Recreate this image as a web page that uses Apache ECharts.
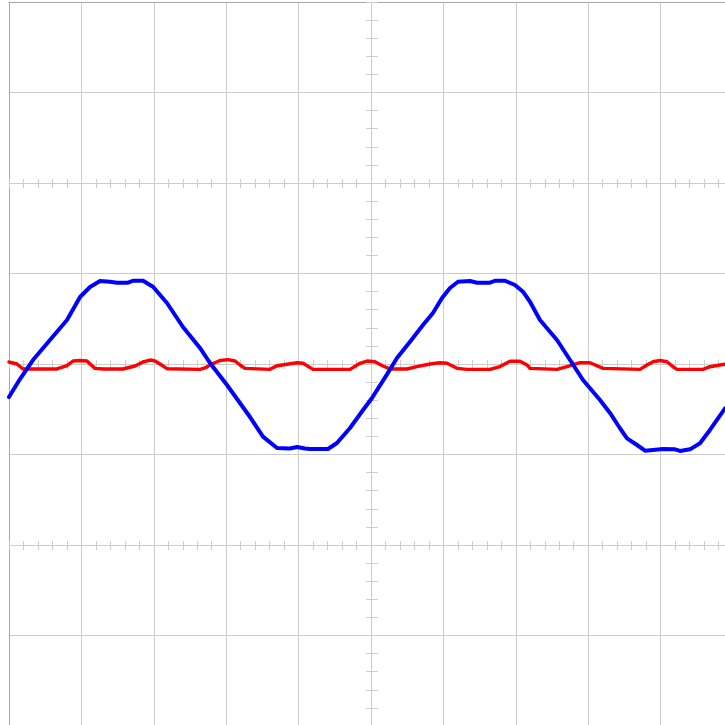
<!DOCTYPE html>
<html><head><meta charset="utf-8">
<script src="https://cdn.jsdelivr.net/npm/echarts@6/dist/echarts.min.js"></script>
<style>html,body{margin:0;padding:0;background:#fff}#chart{width:725px;height:725px}</style>
</head><body><div id="chart"></div>
<script>
// Horizontal range in divisions, vertical range in divisions
const xRange = [0, 10];
const yRange = [-4, 4];
// Grid rows / column that carry the fine 1/5-division ticks
const tickedRows = [2, 0, -2];
const tickedColumn = 5;
const minorStep = 0.2;

// Blue trace: [time (div), level (div)]
const blueTrace = [
  [0, -0.365], [0.152, -0.166], [0.331, 0.044], [0.566, 0.265], [0.801, 0.486],
  [0.981, 0.740], [1.119, 0.851], [1.257, 0.917], [1.395, 0.909], [1.492, 0.898],
  [1.644, 0.898], [1.713, 0.920], [1.851, 0.920], [1.989, 0.854], [2.182, 0.674],
  [2.403, 0.409], [2.638, 0.177], [2.776, 0.011], [3.011, -0.232], [3.329, -0.586],
  [3.508, -0.803], [3.702, -0.928], [3.881, -0.934], [3.978, -0.917], [4.088, -0.934],
  [4.157, -0.939], [4.406, -0.939], [4.530, -0.873], [4.710, -0.707], [4.890, -0.508],
  [5.014, -0.376], [5.221, -0.114], [5.359, 0.066], [5.539, 0.246], [5.718, 0.431],
  [5.856, 0.564], [5.981, 0.729], [6.091, 0.840], [6.202, 0.909], [6.367, 0.917],
  [6.464, 0.898], [6.644, 0.898], [6.713, 0.920], [6.851, 0.920], [6.989, 0.873],
  [7.099, 0.799], [7.196, 0.688], [7.334, 0.486], [7.569, 0.265], [7.749, 0.044],
  [7.928, -0.177], [8.163, -0.398], [8.301, -0.541], [8.439, -0.710], [8.536, -0.821],
  [8.674, -0.895], [8.785, -0.958], [8.895, -0.950], [9.033, -0.939], [9.199, -0.943],
  [9.268, -0.961], [9.406, -0.943], [9.544, -0.876], [9.682, -0.729], [9.793, -0.600],
  [9.890, -0.490]
];

// Red trace: [time (div), level (div)]
const redTrace = [
  [0, 0.022], [0.110, 0], [0.193, -0.055], [0.663, -0.055], [0.801, -0.017],
  [0.884, 0.033], [0.981, 0.039], [1.077, 0.033], [1.119, 0], [1.188, -0.048],
  [1.298, -0.055], [1.575, -0.055], [1.630, -0.044], [1.740, -0.022], [1.851, 0.022],
  [1.948, 0.044], [2.017, 0.033], [2.086, 0], [2.182, -0.052], [2.638, -0.059],
  [2.707, -0.044], [2.804, 0], [2.914, 0.039], [3.025, 0.048], [3.122, 0.033],
  [3.191, -0.011], [3.260, -0.048], [3.605, -0.059], [3.702, -0.019], [3.840, -0.003],
  [3.978, 0.014], [4.061, 0.008], [4.199, -0.059], [4.710, -0.059], [4.848, 0.008],
  [4.945, 0.033], [5.055, 0.025], [5.166, -0.022], [5.262, -0.055], [5.497, -0.055],
  [5.635, -0.030], [5.815, 0], [5.953, 0.014], [6.050, 0.008], [6.188, -0.048],
  [6.326, -0.059], [6.644, -0.059], [6.782, -0.028], [6.920, 0.031], [7.058, 0.031],
  [7.155, -0.011], [7.196, -0.048], [7.569, -0.059], [7.707, -0.030], [7.887, 0.014],
  [8.025, 0.014], [8.204, -0.048], [8.715, -0.059], [8.812, -0.011], [8.895, 0.025],
  [8.992, 0.039], [9.088, 0.025], [9.171, -0.030], [9.227, -0.059], [9.586, -0.059],
  [9.682, -0.030], [9.820, -0.011], [9.890, -0.003]
];

const GRID_COLOR = '#cccccc';
const BORDER_COLOR = '#a8a8a8';
const TICK_COLOR = '#cccccc';

const xAxes = [];
const yAxes = [];
const hidden = { axisLabel: { show: false }, splitLine: { show: false } };

xAxes.push({
  type: 'value', min: xRange[0], max: xRange[1], interval: 1, position: 'top',
  axisLine: { show: true, onZero: false, lineStyle: { color: BORDER_COLOR, width: 1 } },
  axisTick: { show: false }, axisLabel: { show: false },
  splitLine: { show: true, lineStyle: { color: GRID_COLOR, width: 1 } }
});
yAxes.push({
  type: 'value', min: yRange[0], max: yRange[1], interval: 1, position: 'left',
  axisLine: { show: true, onZero: false, lineStyle: { color: BORDER_COLOR, width: 1 } },
  axisTick: { show: false }, axisLabel: { show: false },
  splitLine: { show: true, lineStyle: { color: GRID_COLOR, width: 1 } }
});

// Rows with fine ticks (ticks above and below the grid line)
tickedRows.forEach(function (v) {
  let yi = 0;
  if (v !== 0) {
    yAxes.push({ type: 'value', show: false, min: yRange[0] - v, max: yRange[1] - v });
    yi = yAxes.length - 1;
  }
  [true, false].forEach(function (inside) {
    xAxes.push(Object.assign({
      type: 'value', min: xRange[0], max: xRange[1], interval: minorStep, position: 'bottom',
      axisLine: { show: false, onZero: true, onZeroAxisIndex: yi },
      axisTick: { show: true, inside: inside, length: inside ? 4 : 5, lineStyle: { color: TICK_COLOR, width: 1 } }
    }, hidden));
  });
});

// Column with fine ticks (ticks left and right of the grid line)
xAxes.push({ type: 'value', show: false, min: xRange[0] - tickedColumn, max: xRange[1] - tickedColumn });
const colHelper = xAxes.length - 1;
[true, false].forEach(function (inside) {
  yAxes.push(Object.assign({
    type: 'value', min: yRange[0], max: yRange[1], interval: minorStep, position: 'left',
    axisLine: { show: false, onZero: true, onZeroAxisIndex: colHelper },
    axisTick: { show: true, inside: inside, length: inside ? 7 : 5, lineStyle: { color: TICK_COLOR, width: 1 } }
  }, hidden));
});

const chart = echarts.init(document.getElementById('chart'), null, { renderer: 'canvas' });
chart.setOption({
  animation: false,
  backgroundColor: '#ffffff',
  grid: { left: 9, top: 2, width: 724, height: 724, containLabel: false, outerBoundsMode: 'none' },
  xAxis: xAxes,
  yAxis: yAxes,
  series: [
    {
      type: 'line', name: 'red', xAxisIndex: 0, yAxisIndex: 0, data: redTrace,
      showSymbol: false, symbol: 'none', smooth: false,
      lineStyle: { color: '#ff0000', width: 3.4, join: 'round', cap: 'round' }
    },
    {
      type: 'line', name: 'blue', xAxisIndex: 0, yAxisIndex: 0, data: blueTrace,
      showSymbol: false, symbol: 'none', smooth: false,
      lineStyle: { color: '#0000ff', width: 4, join: 'round', cap: 'round' }
    }
  ]
});
</script>
</body></html>
